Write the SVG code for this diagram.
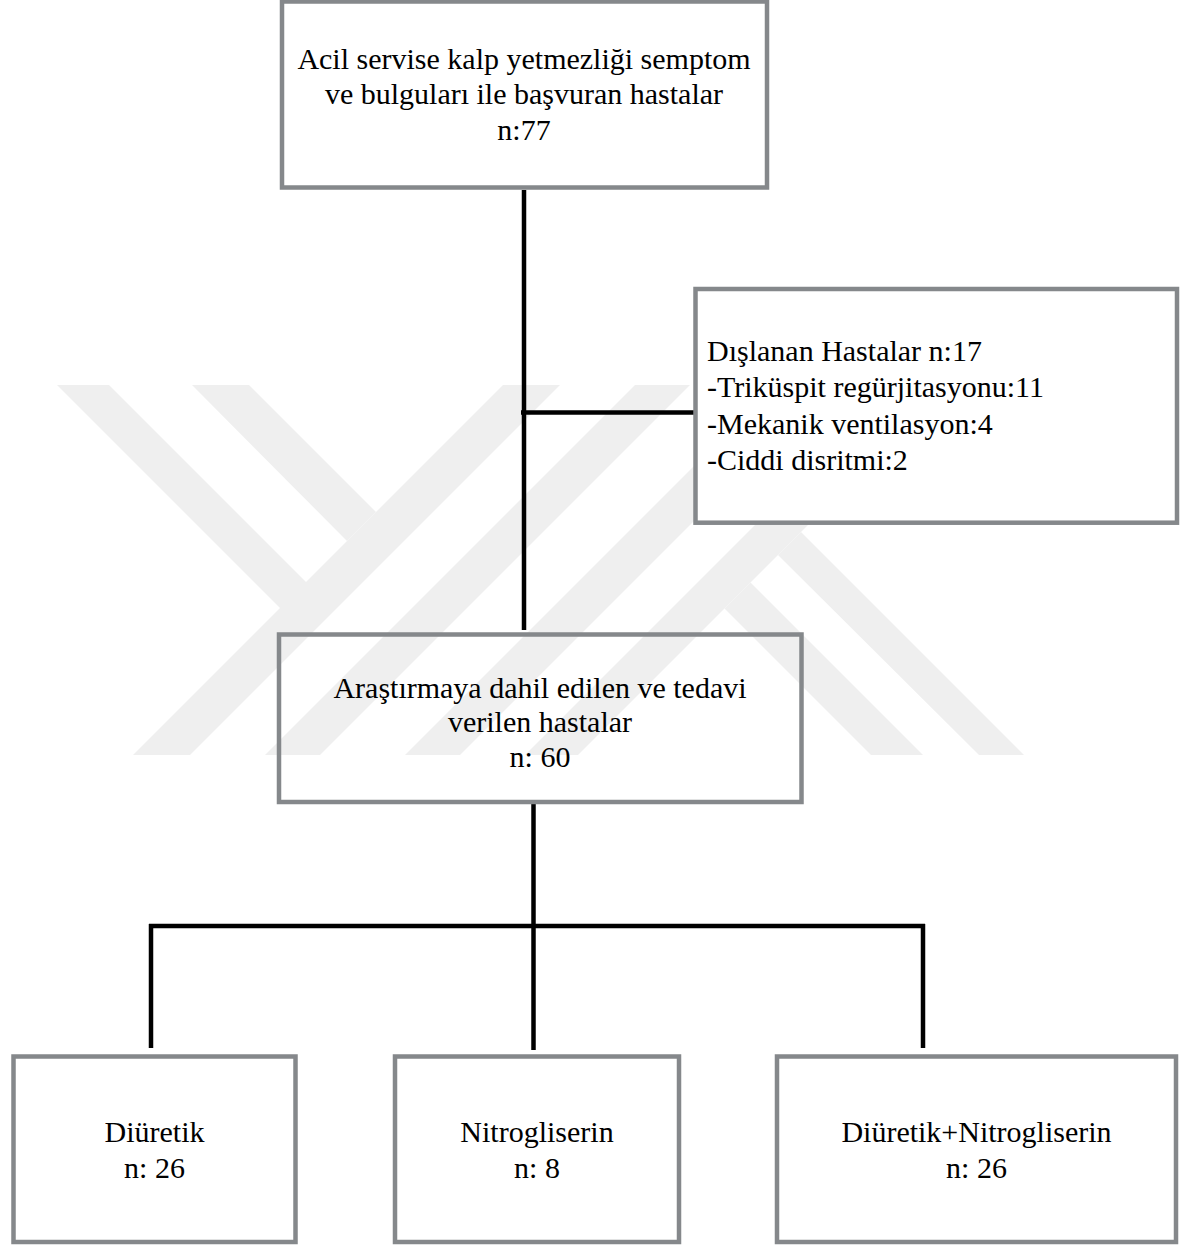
<svg xmlns="http://www.w3.org/2000/svg" width="1181" height="1245" viewBox="0 0 1181 1245">
<style>
.box{fill:none;stroke:#85888b;stroke-width:4.5}
.boxw{fill:#fff;stroke:#85888b;stroke-width:4.5}
.t{font-family:"Liberation Serif","Times New Roman",serif;font-size:30px;fill:#000}
.c{text-anchor:middle}
.ln{stroke:#000;stroke-width:4.5;fill:none}
.wm{fill:#efefef}
</style>
<rect width="1181" height="1245" fill="#fff"/>
<g id="watermark" class="wm">
<polygon points="57,385 109,385 333,609 280,608"/>
<polygon points="192,385 249,385 376,512 347,541"/>
<polygon points="503,385 560,385 190,755 133,755"/>
<polygon points="635,385 690,385 320,755 265,755"/>
<polygon points="775,385 830,385 460,755 405,755"/>
<polygon points="895,385 948,385 578,755 525,755"/>
<polygon points="778,555 801,532 1024,755 979,755"/>
<polygon points="724.5,608.5 750.5,582.5 923,755 871,755"/>
</g>
<g id="connectors">
<line class="ln" x1="524" y1="190" x2="524" y2="630"/>
<line class="ln" x1="521" y1="412.5" x2="695" y2="412.5"/>
<line class="ln" x1="533.5" y1="802" x2="533.5" y2="926"/>
<line class="ln" x1="149" y1="926" x2="925" y2="926" stroke-width="5"/>
<line class="ln" x1="151" y1="924" x2="151" y2="1048"/>
<line class="ln" x1="533.5" y1="926" x2="533.5" y2="1050"/>
<line class="ln" x1="923" y1="924" x2="923" y2="1048"/>
</g>
<g id="node-basvuran">
<rect class="boxw" x="282" y="1.5" width="485" height="186"/>
<text class="t c" x="524" y="69">Acil servise kalp yetmezliği semptom</text>
<text class="t c" x="524" y="104">ve bulguları ile başvuran hastalar</text>
<text class="t c" x="524" y="140">n:77</text>
</g>
<g id="node-dislanan">
<rect class="boxw" x="695.5" y="289" width="481.5" height="233.7"/>
<text class="t" x="707" y="361">Dışlanan Hastalar n:17</text>
<text class="t" x="707" y="397">-Triküspit regürjitasyonu:11</text>
<text class="t" x="707" y="433.5">-Mekanik ventilasyon:4</text>
<text class="t" x="707" y="470">-Ciddi disritmi:2</text>
</g>
<g id="node-dahil">
<rect class="box" x="279" y="634.5" width="522.5" height="167.5"/>
<text class="t c" x="540" y="698">Araştırmaya dahil edilen ve tedavi</text>
<text class="t c" x="540" y="732">verilen hastalar</text>
<text class="t c" x="540" y="767">n: 60</text>
</g>
<g id="node-diuretik">
<rect class="boxw" x="13.5" y="1056.5" width="282" height="185.5"/>
<text class="t c" x="154.5" y="1142">Diüretik</text>
<text class="t c" x="154.5" y="1178">n: 26</text>
</g>
<g id="node-nitrogliserin">
<rect class="boxw" x="395" y="1056.5" width="284" height="185.5"/>
<text class="t c" x="537" y="1142">Nitrogliserin</text>
<text class="t c" x="537" y="1178">n: 8</text>
</g>
<g id="node-kombinasyon">
<rect class="boxw" x="777" y="1056.5" width="399" height="185.5"/>
<text class="t c" x="976.5" y="1142">Diüretik+Nitrogliserin</text>
<text class="t c" x="976.5" y="1178">n: 26</text>
</g>
</svg>
